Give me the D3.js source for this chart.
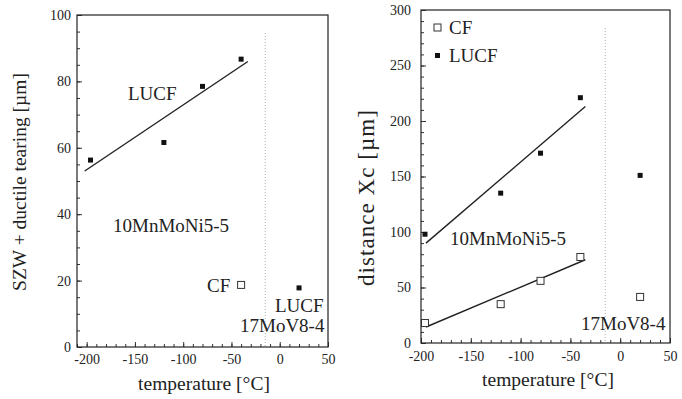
<!DOCTYPE html>
<html>
<head>
<meta charset="utf-8">
<script src="https://cdn.jsdelivr.net/npm/d3@7"></script>
<style>
body{margin:0;background:#fff}
svg text{font-family:"Liberation Serif","Times New Roman","DejaVu Serif",serif;fill:#222}
</style>
</head>
<body>
<svg id="chart" width="682" height="399"></svg>
<script>
// left panel: SZW + ductile tearing
var leftLUCF = [[-196, 56.3], [-120, 61.6], [-80, 78.5], [-40, 86.7]]
var leftCF17 = [[-40, 18.7]]
var leftLUCF17 = [[20, 17.8]]
var leftFit = [[-202, 53], [-33, 86]]
var leftTicksY = [0, 20, 40, 60, 80, 100]

// right panel: distance Xc
var rightCF = [[-196, 18], [-120, 35], [-80, 56], [-40, 77.5]]
var rightLUCF = [[-196, 98], [-120, 135], [-80, 171], [-40, 221]]
var rightCF17 = [[20, 41.5]]
var rightLUCF17 = [[20, 151]]
var rightFitCF = [[-195, 14.4], [-35, 75]]
var rightFitLUCF = [[-195, 90], [-35, 213]]
var rightTicksY = [0, 50, 100, 150, 200, 250, 300]

var ticksX = [-200, -150, -100, -50, 0, 50]
var splitT = -15

var svg = d3.select("#chart")
var fmt = function(d){return String(d)}   // plain hyphen, not the unicode minus

var panel = function(o)
{
    var g = svg.append("g")
    var x = d3.scaleLinear().domain(o.xdom).range(o.xr)
    var y = d3.scaleLinear().domain(o.ydom).range(o.yr)

    // minor ticks
    g.append("g")
      .attr("transform", "translate(0," + o.yr[0] + ")")
      .call(d3.axisBottom(x).tickValues(d3.range(o.xdom[0], 51, 10)).tickSizeInner(-3).tickSizeOuter(0).tickFormat(""))
    g.append("g")
      .attr("transform", "translate(" + o.xr[0] + ",0)")
      .call(d3.axisLeft(y).tickValues(d3.range(0, o.ydom[1] + 1, o.minorY)).tickSizeInner(-3).tickSizeOuter(0).tickFormat(""))

    // major ticks + labels
    g.append("g")
      .attr("transform", "translate(0," + o.yr[0] + ")")
      .call(d3.axisBottom(x).tickValues(ticksX).tickFormat(fmt).tickSizeInner(-5).tickSizeOuter(0).tickPadding(o.xpad))
    g.append("g")
      .attr("transform", "translate(" + o.xr[0] + ",0)")
      .call(d3.axisLeft(y).tickValues(o.ticksY).tickFormat(fmt).tickSizeInner(-5).tickSizeOuter(0).tickPadding(o.ypad))
    g.selectAll(".domain").remove()
    g.selectAll(".tick line").attr("stroke", "#333")
    g.selectAll(".tick text").attr("font-size", 14).attr("font-family", "Liberation Serif").attr("fill", "#222")

    // frame
    g.append("rect")
      .attr("x", o.xr[0]).attr("y", o.yr[1])
      .attr("width", o.xr[1] - o.xr[0]).attr("height", o.yr[0] - o.yr[1])
      .attr("fill", "none").attr("stroke", "#222").attr("stroke-width", 1.2)

    // dotted split line
    g.append("line")
      .attr("x1", x(splitT)).attr("x2", x(splitT))
      .attr("y1", y(o.ydom[1]) + 18).attr("y2", o.yr[0])
      .attr("stroke", "#999").attr("stroke-width", 0.8).attr("stroke-dasharray", "1,2")

    var line = d3.line().x(function(d){return x(d[0])}).y(function(d){return y(d[1])})
    o.fits.forEach(function(f)
    {
        g.append("path").attr("d", line(f))
          .attr("fill", "none").attr("stroke", "#222").attr("stroke-width", 1.4)
    })

    o.open.forEach(function(s)
    {
        g.selectAll(null).data(s).enter().append("rect")
          .attr("x", function(d){return x(d[0]) - 3.5})
          .attr("y", function(d){return y(d[1]) - 3.5})
          .attr("width", 7).attr("height", 7)
          .attr("fill", "#fff").attr("stroke", "#333").attr("stroke-width", 1)
    })
    o.filled.forEach(function(s)
    {
        g.selectAll(null).data(s).enter().append("rect")
          .attr("x", function(d){return x(d[0]) - 2.5})
          .attr("y", function(d){return y(d[1]) - 2.5})
          .attr("width", 5).attr("height", 5)
          .attr("fill", "#111")
    })

    o.labels.forEach(function(l)
    {
        g.append("text").attr("x", l[1]).attr("y", l[2]).attr("font-size", 19).text(l[0])
    })

    g.append("text")
      .attr("x", o.xtitle[0]).attr("y", o.xtitle[1])
      .attr("text-anchor", "middle").attr("font-size", 19.5)
      .text("temperature [°C]")
    var yt = g.append("text")
      .attr("transform", "translate(" + o.ytitle[0] + "," + o.ytitle[1] + ") rotate(-90)")
      .attr("text-anchor", "middle").attr("font-size", o.ytitle[3])
      .text(o.ytitle[2])
    if (o.ytitle[4]) yt.attr("textLength", o.ytitle[4]).attr("lengthAdjust", "spacing")
    return {x: x, y: y, g: g}
}

panel({
    xdom: [-210, 50], xr: [77, 328],
    ydom: [0, 100], yr: [347, 15],
    ticksY: leftTicksY, minorY: 5, xpad: 7, ypad: 6,
    fits: [leftFit],
    open: [leftCF17],
    filled: [leftLUCF, leftLUCF17],
    labels: [["LUCF", 128, 100], ["10MnMoNi5-5", 113, 232], ["CF", 207, 292], ["LUCF", 275, 312], ["17MoV8-4", 240, 332]],
    xtitle: [204, 390],
    ytitle: [26, 182, "SZW + ductile tearing [µm]", 19.5]
})

var right = panel({
    xdom: [-200, 50], xr: [421, 670],
    ydom: [0, 300], yr: [343, 10],
    ticksY: rightTicksY, minorY: 10, xpad: 8, ypad: 10,
    fits: [rightFitCF, rightFitLUCF],
    open: [rightCF, rightCF17],
    filled: [rightLUCF, rightLUCF17],
    labels: [["10MnMoNi5-5", 450, 245], ["17MoV8-4", 581, 330]],
    xtitle: [548, 386],
    ytitle: [374, 198, "distance Xc [µm]", 23, 176]
})

// legend
var leg = right.g.append("g")
leg.append("rect").attr("x", 434).attr("y", 24).attr("width", 7).attr("height", 7)
  .attr("fill", "#fff").attr("stroke", "#333")
leg.append("text").attr("x", 449).attr("y", 34).attr("font-size", 19).text("CF")
leg.append("rect").attr("x", 435).attr("y", 53).attr("width", 5).attr("height", 5).attr("fill", "#111")
leg.append("text").attr("x", 449).attr("y", 62).attr("font-size", 19).text("LUCF")
</script>
</body>
</html>
